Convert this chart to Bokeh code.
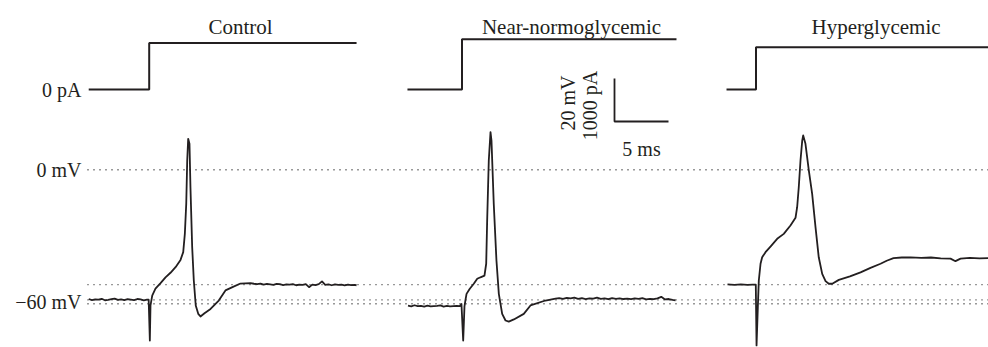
import numpy as np
from bokeh.plotting import figure
from bokeh.models import Range1d, Label
from bokeh.embed import file_html
from bokeh.resources import INLINE

# ---------------- data ----------------
panel_names = ["Control", "Near-normoglycemic", "Hyperglycemic"]

# current steps: time (ms, 0 = step onset) and current (pA)
control_I_t = [-5.6, 0.0, 0.0, 19.2]
control_I_pA = [0, 0, 1080, 1080]
normo_I_t = [-5.05, 0.0, 0.0, 19.86]
normo_I_pA = [0, 0, 1170, 1170]
hyper_I_t = [-2.73, 0.0, 0.0, 21.5]
hyper_I_pA = [0, 0, 980, 980]

# membrane potential traces: time (ms, 0 = step onset), voltage (mV)
control_t = [-5.6, -5.3, -5.0, -4.7, -4.4, -4.1, -3.8, -3.5, -3.2, -2.9, -2.6, -2.3, -2.0, -1.7,
             -1.4, -1.1, -0.8, -0.5, -0.2, -0.05,
             0.06, 0.12, 0.28, 0.58, 1.05, 1.51, 1.97, 2.44, 2.90, 3.15, 3.30, 3.43, 3.52, 3.61,
             3.73, 3.82, 3.98, 4.13, 4.31, 4.54, 4.75, 5.12, 5.68, 6.44, 7.06, 7.71, 8.45, 9.38,
             9.7, 10.0, 10.3, 10.6, 10.9, 11.2, 11.5, 11.8, 12.1, 12.4, 12.7, 13.0, 13.3, 13.6,
             13.9, 14.2, 14.5, 14.8, 15.1, 15.4, 15.7, 16.0, 16.3, 16.6, 16.9, 17.2, 17.5, 17.8,
             18.1, 18.4, 18.7, 19.0, 19.2]
control_mV = [-60.1, -60.6, -60.3, -60.4, -60.0, -60.7, -60.5, -60.2, -59.9, -60.5, -60.3, -60.6,
              -60.2, -60.4, -60.6, -60.1, -60.3, -60.7, -60.4, -60.4,
              -79.4, -63.1, -58.5, -55.3, -52.7, -50.0, -47.9, -45.3, -41.9, -38.3, -29.8, -15.8,
              4.3, 14.4, 12.1, -8.1, -36.0, -51.5, -63.1, -67.0, -68.2, -66.7, -64.7, -60.8,
              -56.1, -54.6, -52.9, -52.7,
              -53.0, -53.2, -52.9, -53.4, -53.1, -53.3, -53.5, -53.1, -53.2, -53.6, -53.3, -53.4,
              -53.2, -53.7, -53.4, -53.5, -53.2, -54.6, -53.4, -53.6, -53.2, -51.9, -53.5, -53.3,
              -53.7, -53.3, -53.5, -53.4, -53.8, -53.4, -53.6, -53.5, -53.7]

normo_t = [-5.0, -4.7, -4.4, -4.1, -3.8, -3.5, -3.2, -2.9, -2.6, -2.3, -2.0, -1.7, -1.4, -1.1,
           -0.8, -0.5, -0.2, -0.05,
           0.11, 0.23, 0.32, 0.42, 0.72, 1.09, 1.41, 1.71, 2.08, 2.24, 2.33, 2.48, 2.64, 2.73,
           2.94, 3.19, 3.41, 3.72, 4.03, 4.33, 4.80, 5.72, 6.34, 7.73, 8.66,
           9.0, 9.35, 9.7, 10.05, 10.4, 10.75, 11.1, 11.45, 11.8, 12.15, 12.5, 12.85, 13.2,
           13.55, 13.9, 14.25, 14.6, 14.95, 15.3, 15.65, 16.0, 16.35, 16.7, 17.05, 17.4, 17.75,
           18.1, 18.45, 18.8, 19.15, 19.5, 19.77]
normo_mV = [-63.2, -63.5, -63.0, -63.4, -63.3, -63.6, -63.2, -63.5, -63.4, -63.3, -63.1, -63.6,
            -63.3, -63.5, -63.4, -63.3, -63.4, -62.4,
            -79.4, -63.5, -60.6, -57.7, -55.3, -53.0, -50.7, -50.0, -49.2, -43.7, -23.6, 4.3,
            17.5, 13.6, -15.8, -42.2, -57.7, -67.0, -70.1, -70.6, -69.6, -67.0, -63.1, -60.8,
            -59.9,
            -59.7, -60.0, -59.6, -59.8, -59.5, -60.0, -59.7, -60.1, -59.8, -59.9, -59.5, -60.0,
            -59.8, -60.2, -59.7, -60.0, -59.8, -60.1, -59.9, -60.2, -59.8, -60.0, -59.7, -60.3,
            -60.0, -60.2, -59.8, -59.1, -60.3, -60.1, -60.5, -60.7]

hyper_t = [-2.64, -2.0, -1.4, -0.8, -0.3, -0.02,
           0.05, 0.17, 0.26, 0.42, 0.57, 0.88, 1.34, 1.96, 2.57, 3.19, 3.66, 3.81, 3.96, 4.12,
           4.28, 4.37, 4.58, 4.89, 5.20, 5.51, 5.81, 6.13, 6.44, 6.74, 7.06, 7.67, 8.7, 9.68,
           10.6, 11.53, 12.1, 12.73, 13.5, 14.31, 15.3, 16.2, 17.1, 18.01, 18.47, 18.94, 19.8,
           20.7, 21.53]
hyper_mV = [-53.3, -53.5, -53.3, -53.5, -53.4, -53.4,
            -81.7, -63.9, -51.5, -43.7, -40.7, -38.3, -35.7, -32.1, -29.8, -25.9, -22.3, -17.4,
            -8.1, 4.3, 13.6, 16.0, 12.1, -0.3, -11.2, -26.7, -40.7, -48.4, -51.8, -53.0, -53.0,
            -51.2, -49.6, -47.7, -45.6, -43.7, -42.3, -41.1, -40.8, -40.7, -41.0, -40.8, -41.2,
            -41.3, -42.5, -41.3, -41.0, -41.2, -41.1]

# dotted reference levels (mV)
ref_levels_mV = [0, -53.4, -60.5, -62.3]

# scale bar values
bar_mV = 20
bar_pA = 1000
bar_ms = 5

# ---------------- layout / style ----------------
PX_PER_MS = 10.8
PX_PER_MV = 2.15
PX_PER_PA = 0.043
W, H = 988, 347
ZERO_MV_PX = 169.3   # pixel row of 0 mV (from top)
ZERO_PA_PX = 89.0    # pixel row of 0 pA (from top)

step_px = [148.7, 461.5, 755.5]
offsets = [s / PX_PER_MS for s in step_px]

x_end = W / PX_PER_MS
y_top = ZERO_MV_PX / PX_PER_MV
y_bot = -(H - ZERO_MV_PX) / PX_PER_MV
pa_top = ZERO_PA_PX / PX_PER_PA
pa_bot = -(H - ZERO_PA_PX) / PX_PER_PA

INK = "#231f20"
FONT = "Liberation Serif"

p = figure(width=W, height=H, x_range=Range1d(0, x_end), y_range=Range1d(y_bot, y_top),
           x_axis_type=None, y_axis_type=None, output_backend="svg", toolbar_location=None,
           min_border=0, min_border_left=0, min_border_right=0, min_border_top=0,
           min_border_bottom=0)
p.extra_y_ranges = {"pA": Range1d(pa_bot, pa_top)}
p.grid.visible = False
p.outline_line_color = None
p.background_fill_color = "white"
p.border_fill_color = "white"

# dotted reference lines
x_start_dots = 87 / PX_PER_MS
for lvl in ref_levels_mV:
    p.segment(x0=[x_start_dots], y0=[lvl], x1=[x_end], y1=[lvl], line_color="#333333",
              line_width=1.4, line_dash="1 5")

traces = [
    (control_I_t, control_I_pA, control_t, control_mV),
    (normo_I_t, normo_I_pA, normo_t, normo_mV),
    (hyper_I_t, hyper_I_pA, hyper_t, hyper_mV),
]
for off, (it, ipa, vt, vmv) in zip(offsets, traces):
    p.line(np.array(it) + off, ipa, y_range_name="pA", line_color=INK, line_width=2.0)
    p.line(np.array(vt) + off, vmv, line_color=INK, line_width=1.8, line_join="round")

# panel titles
title_px = [240, 571, 875.5]
title_y_pA = (ZERO_PA_PX - 26) / PX_PER_PA
for name, tx in zip(panel_names, title_px):
    p.add_layout(Label(x=tx / PX_PER_MS, y=title_y_pA, y_range_name="pA", text=name,
                       text_font=FONT, text_font_size="21px", text_color=INK,
                       text_align="center", text_baseline="alphabetic"))

# level labels
lab_x = 81 / PX_PER_MS
p.add_layout(Label(x=lab_x, y=0, y_range_name="pA", text="0 pA", text_font=FONT,
                   text_font_size="20px", text_color=INK, text_align="right",
                   text_baseline="middle"))
p.add_layout(Label(x=lab_x, y=0, text="0 mV", text_font=FONT, text_font_size="20px",
                   text_color=INK, text_align="right", text_baseline="middle"))
p.add_layout(Label(x=lab_x, y=-61.6, text="\u221260 mV", text_font=FONT, text_font_size="20px",
                   text_color=INK, text_align="right", text_baseline="middle"))

# scale bar
cx = 614 / PX_PER_MS
cy = -(121 - ZERO_MV_PX) / PX_PER_MV
p.line([cx, cx, cx + bar_ms], [cy + bar_mV, cy, cy], line_color=INK, line_width=1.8)
p.add_layout(Label(x=567 / PX_PER_MS, y=-(102.5 - ZERO_MV_PX) / PX_PER_MV,
                   text=f"{bar_mV} mV", angle=np.pi / 2, text_font=FONT,
                   text_font_size="20px", text_color=INK, text_align="center",
                   text_baseline="middle"))
p.add_layout(Label(x=589 / PX_PER_MS, y=-(105 - ZERO_MV_PX) / PX_PER_MV,
                   text=f"{bar_pA} pA", angle=np.pi / 2, text_font=FONT,
                   text_font_size="20px", text_color=INK, text_align="center",
                   text_baseline="middle"))
p.add_layout(Label(x=cx + bar_ms / 2, y=-(148 - ZERO_MV_PX) / PX_PER_MV,
                   text=f"{bar_ms} ms", text_font=FONT, text_font_size="20px",
                   text_color=INK, text_align="center", text_baseline="alphabetic"))

open("out.html", "w").write(file_html(p, INLINE))
